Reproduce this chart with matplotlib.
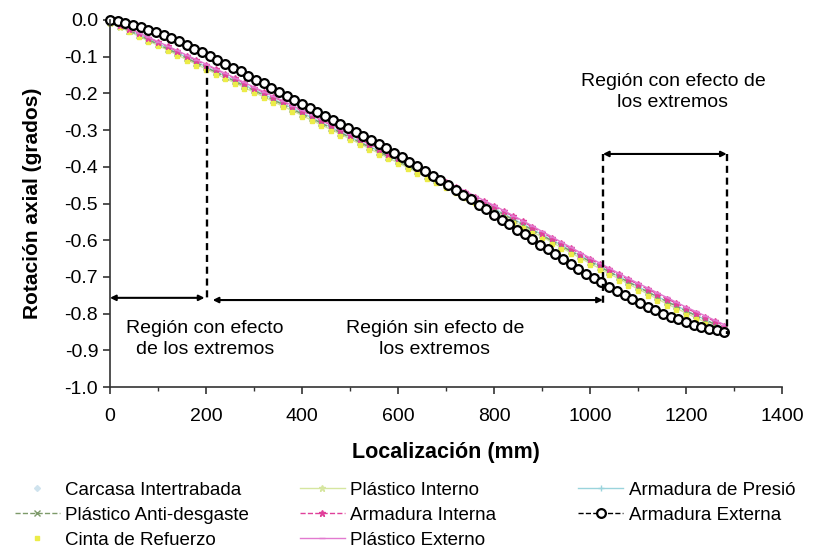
import numpy as np
import matplotlib
matplotlib.use("Agg")
import matplotlib.pyplot as plt
from matplotlib.ticker import MultipleLocator, FormatStrFormatter

plt.rcParams['font.family'] = ['Liberation Sans', 'DejaVu Sans']
plt.rcParams['axes.unicode_minus'] = False

# location along the pipe (mm)
loc = [0, 20, 40, 60, 80, 100, 120, 140, 160, 180, 200, 220, 240, 260, 280, 300,
       320, 340, 360, 380, 400, 420, 440, 460, 480, 500, 520, 540, 560, 580, 600,
       620, 640, 660, 680, 700, 720, 740, 760, 780, 800, 820, 840, 860, 880, 900,
       920, 940, 960, 980, 1000, 1020, 1040, 1060, 1080, 1100, 1120, 1140, 1160,
       1180, 1200, 1220, 1240, 1260, 1280]
# finer sampling for the external armour layer
loc_ext = [0, 16, 32, 48, 64, 80, 96, 112, 128, 144, 160, 176, 192, 208, 224, 240,
           256, 272, 288, 304, 320, 336, 352, 368, 384, 400, 416, 432, 448, 464, 480,
           496, 512, 528, 544, 560, 576, 592, 608, 624, 640, 656, 672, 688, 704, 720,
           736, 752, 768, 784, 800, 816, 832, 848, 864, 880, 896, 912, 928, 944, 960,
           976, 992, 1008, 1024, 1040, 1056, 1072, 1088, 1104, 1120, 1136, 1152, 1168,
           1184, 1200, 1216, 1232, 1248, 1264, 1280]

# axial rotation (degrees) per layer
carcasa = [-0.005, -0.015, -0.027, -0.039, -0.051, -0.063, -0.076, -0.088, -0.101, -0.113,
           -0.126, -0.138, -0.151, -0.163, -0.176, -0.188, -0.201, -0.213, -0.226, -0.239,
           -0.251, -0.264, -0.277, -0.290, -0.303, -0.316, -0.329, -0.342, -0.355, -0.368,
           -0.381, -0.394, -0.407, -0.420, -0.433, -0.446, -0.459, -0.472, -0.485, -0.498,
           -0.512, -0.526, -0.540, -0.554, -0.568, -0.583, -0.597, -0.612, -0.626, -0.641,
           -0.655, -0.669, -0.684, -0.698, -0.712, -0.725, -0.738, -0.752, -0.765, -0.778,
           -0.790, -0.803, -0.815, -0.827, -0.838]
anti_desgaste = [-0.006, -0.017, -0.029, -0.041, -0.054, -0.066, -0.079, -0.091, -0.104, -0.117,
                 -0.129, -0.142, -0.154, -0.167, -0.180, -0.192, -0.205, -0.218, -0.230, -0.243,
                 -0.256, -0.268, -0.281, -0.294, -0.307, -0.320, -0.333, -0.346, -0.359, -0.372,
                 -0.385, -0.398, -0.411, -0.424, -0.437, -0.450, -0.463, -0.476, -0.489, -0.503,
                 -0.516, -0.530, -0.544, -0.558, -0.572, -0.587, -0.601, -0.615, -0.630, -0.644,
                 -0.658, -0.672, -0.686, -0.700, -0.714, -0.727, -0.741, -0.754, -0.767, -0.780,
                 -0.793, -0.805, -0.817, -0.829, -0.841]
cinta = [-0.008, -0.020, -0.033, -0.046, -0.059, -0.072, -0.085, -0.098, -0.111, -0.124,
         -0.137, -0.149, -0.162, -0.175, -0.188, -0.200, -0.213, -0.226, -0.238, -0.251,
         -0.264, -0.276, -0.289, -0.302, -0.315, -0.328, -0.341, -0.354, -0.367, -0.380,
         -0.393, -0.406, -0.419, -0.432, -0.445, -0.458, -0.471, -0.484, -0.498, -0.511,
         -0.525, -0.539, -0.553, -0.567, -0.581, -0.595, -0.609, -0.624, -0.638, -0.653,
         -0.667, -0.681, -0.696, -0.710, -0.724, -0.738, -0.752, -0.765, -0.778, -0.791,
         -0.804, -0.816, -0.828, -0.839, -0.850]
p_interno = [-0.007, -0.019, -0.031, -0.044, -0.057, -0.069, -0.082, -0.095, -0.108, -0.121,
             -0.133, -0.146, -0.159, -0.171, -0.184, -0.197, -0.209, -0.222, -0.235, -0.247,
             -0.260, -0.273, -0.286, -0.298, -0.311, -0.324, -0.337, -0.350, -0.363, -0.376,
             -0.389, -0.402, -0.415, -0.428, -0.441, -0.454, -0.467, -0.480, -0.494, -0.507,
             -0.521, -0.535, -0.549, -0.563, -0.577, -0.591, -0.605, -0.620, -0.634, -0.649,
             -0.663, -0.677, -0.691, -0.705, -0.719, -0.733, -0.746, -0.760, -0.773, -0.786,
             -0.798, -0.811, -0.823, -0.834, -0.846]
a_interna = [-0.004, -0.013, -0.024, -0.036, -0.048, -0.060, -0.072, -0.085, -0.097, -0.110,
             -0.122, -0.134, -0.147, -0.159, -0.172, -0.184, -0.197, -0.209, -0.222, -0.235,
             -0.247, -0.260, -0.273, -0.286, -0.299, -0.312, -0.325, -0.338, -0.351, -0.364,
             -0.377, -0.390, -0.403, -0.416, -0.429, -0.442, -0.455, -0.468, -0.481, -0.494,
             -0.507, -0.521, -0.535, -0.549, -0.564, -0.579, -0.593, -0.608, -0.622, -0.637,
             -0.651, -0.665, -0.679, -0.693, -0.707, -0.720, -0.733, -0.746, -0.759, -0.772,
             -0.785, -0.797, -0.809, -0.821, -0.833]
p_externo = [-0.003, -0.012, -0.023, -0.035, -0.047, -0.059, -0.071, -0.083, -0.096, -0.108,
             -0.120, -0.133, -0.145, -0.158, -0.170, -0.183, -0.195, -0.208, -0.220, -0.233,
             -0.246, -0.258, -0.271, -0.284, -0.297, -0.310, -0.323, -0.336, -0.349, -0.362,
             -0.375, -0.388, -0.401, -0.414, -0.427, -0.440, -0.453, -0.466, -0.479, -0.492,
             -0.505, -0.519, -0.533, -0.547, -0.561, -0.576, -0.590, -0.605, -0.619, -0.634,
             -0.648, -0.662, -0.676, -0.690, -0.704, -0.717, -0.730, -0.743, -0.756, -0.769,
             -0.782, -0.794, -0.806, -0.818, -0.830]
a_presion = [-0.005, -0.016, -0.028, -0.040, -0.052, -0.064, -0.077, -0.089, -0.102, -0.115,
             -0.127, -0.140, -0.152, -0.165, -0.177, -0.190, -0.202, -0.215, -0.228, -0.240,
             -0.253, -0.266, -0.279, -0.292, -0.305, -0.318, -0.331, -0.344, -0.357, -0.370,
             -0.383, -0.396, -0.409, -0.422, -0.435, -0.448, -0.461, -0.474, -0.487, -0.500,
             -0.514, -0.528, -0.542, -0.556, -0.570, -0.585, -0.599, -0.613, -0.628, -0.642,
             -0.656, -0.670, -0.685, -0.699, -0.713, -0.726, -0.740, -0.753, -0.766, -0.779,
             -0.791, -0.804, -0.816, -0.828, -0.839]
a_externa = [0.000, -0.002, -0.007, -0.013, -0.020, -0.027, -0.034, -0.041, -0.050, -0.058,
             -0.068, -0.078, -0.088, -0.098, -0.109, -0.119, -0.130, -0.140, -0.152, -0.163,
             -0.173, -0.184, -0.195, -0.206, -0.217, -0.228, -0.239, -0.250, -0.261, -0.272,
             -0.283, -0.294, -0.305, -0.317, -0.328, -0.339, -0.350, -0.362, -0.374, -0.386,
             -0.398, -0.411, -0.424, -0.436, -0.449, -0.462, -0.476, -0.489, -0.503, -0.516,
             -0.530, -0.544, -0.557, -0.571, -0.584, -0.598, -0.612, -0.625, -0.638, -0.652,
             -0.665, -0.678, -0.691, -0.703, -0.715, -0.727, -0.738, -0.749, -0.760, -0.771,
             -0.781, -0.791, -0.800, -0.808, -0.816, -0.823, -0.830, -0.836, -0.841, -0.845,
             -0.849]

fig = plt.figure(figsize=(8.17, 5.54), dpi=100)
ax = fig.add_axes([0.1346, 0.3014, 0.8225, 0.6625])

h_car, = ax.plot(loc, carcasa, ls='none', marker='D', ms=3, color='#cfe3ee',
                 mec='#cfe3ee', clip_on=False, label='Carcasa Intertrabada')
h_pint, = ax.plot(loc, p_interno, ls='-', lw=1, marker='*', ms=5, color='#d6e6a0',
                  clip_on=False, label='Plástico Interno')
h_pres, = ax.plot(loc, a_presion, ls='-', lw=1, marker='+', ms=4, color='#9ad4dc',
                  clip_on=False, label='Armadura de Presió')
h_anti, = ax.plot(loc, anti_desgaste, ls='--', lw=1, marker='x', ms=4, color='#7d9a6a',
                  clip_on=False, label='Plástico Anti-desgaste')
h_cin, = ax.plot(loc, cinta, ls='none', marker='s', ms=3.5, color='#ecec48',
                 mec='#ecec48', clip_on=False, label='Cinta de Refuerzo')
h_aint, = ax.plot(loc, a_interna, ls='--', lw=1, marker='*', ms=5, color='#e0409a',
                  clip_on=False, label='Armadura Interna')
h_pext, = ax.plot(loc, p_externo, ls='-', lw=1, marker='_', ms=4, color='#e27ad0',
                  clip_on=False, label='Plástico Externo')
h_aext, = ax.plot(loc_ext, a_externa, ls='--', lw=1, marker='o', ms=6.3, mfc='white',
                  mec='black', mew=1.6, color='black', clip_on=False,
                  label='Armadura Externa')

ax.set_xlim(0, 1400)
ax.set_ylim(-1.0, 0.0)
ax.xaxis.set_major_locator(MultipleLocator(200))
ax.xaxis.set_minor_locator(MultipleLocator(100))
ax.yaxis.set_major_locator(MultipleLocator(0.1))
ax.yaxis.set_major_formatter(FormatStrFormatter('%.1f'))
ax.spines['top'].set_visible(False)
ax.spines['right'].set_visible(False)
for s in ('left', 'bottom'):
    ax.spines[s].set_color('#333333')
    ax.spines[s].set_linewidth(1.2)
ax.tick_params(axis='both', which='major', labelsize=14, length=5, width=1.2,
               color='#333333', direction='out')
ax.tick_params(axis='x', which='minor', length=3, width=1, color='#333333')
ax.tick_params(axis='x', pad=10)
ax.set_xlabel('Localización (mm)', fontsize=15.5, fontweight='bold', labelpad=12)
ax.set_ylabel('Rotación axial (grados)', fontsize=15, fontweight='bold', labelpad=16)

# end-effect region markers
x_left, x_right, x_end = 202, 1027, 1285
y_arrow_low, y_arrow_high = -0.760, -0.365
dash = dict(color='black', lw=1.7, ls=(0, (3, 2)))
ax.plot([x_left, x_left], [-0.125, y_arrow_low], **dash)
ax.plot([x_right, x_right], [y_arrow_high, -0.775], **dash)
ax.plot([x_end, x_end], [y_arrow_high, -0.855], **dash)
arr = dict(arrowstyle='<|-|>', mutation_scale=8, lw=1.5, color='black',
           shrinkA=0, shrinkB=0)
ax.annotate('', xy=(0, y_arrow_low + 0.003), xytext=(x_left - 5, y_arrow_low + 0.003),
            arrowprops=arr)
ax.annotate('', xy=(x_left + 12, y_arrow_low - 0.003), xytext=(x_right, y_arrow_low - 0.003),
            arrowprops=arr)
ax.annotate('', xy=(x_right, y_arrow_high), xytext=(x_end, y_arrow_high),
            arrowprops=arr)

ax.text(198, -0.868, 'Región con efecto\nde los extremos', ha='center', va='center',
        fontsize=14, linespacing=1.3)
ax.text(677, -0.868, 'Región sin efecto de\nlos extremos', ha='center', va='center',
        fontsize=14, linespacing=1.3)
ax.text(1173, -0.196, 'Región con efecto de\nlos extremos', ha='center', va='center',
        fontsize=14, linespacing=1.3)

# legend laid out in three columns
cols = [([h_car, h_anti, h_cin], 0.018),
        ([h_pint, h_aint, h_pext], 0.367),
        ([h_pres, h_aext], 0.708)]
for handles, xpos in cols:
    fig.legend(handles=handles, loc='upper left', bbox_to_anchor=(xpos, 0.131),
               frameon=False, fontsize=13.5, handlelength=2.4, handletextpad=0.3,
               labelspacing=0.42, borderpad=0, borderaxespad=0)

fig.savefig('out.png', dpi=100)
